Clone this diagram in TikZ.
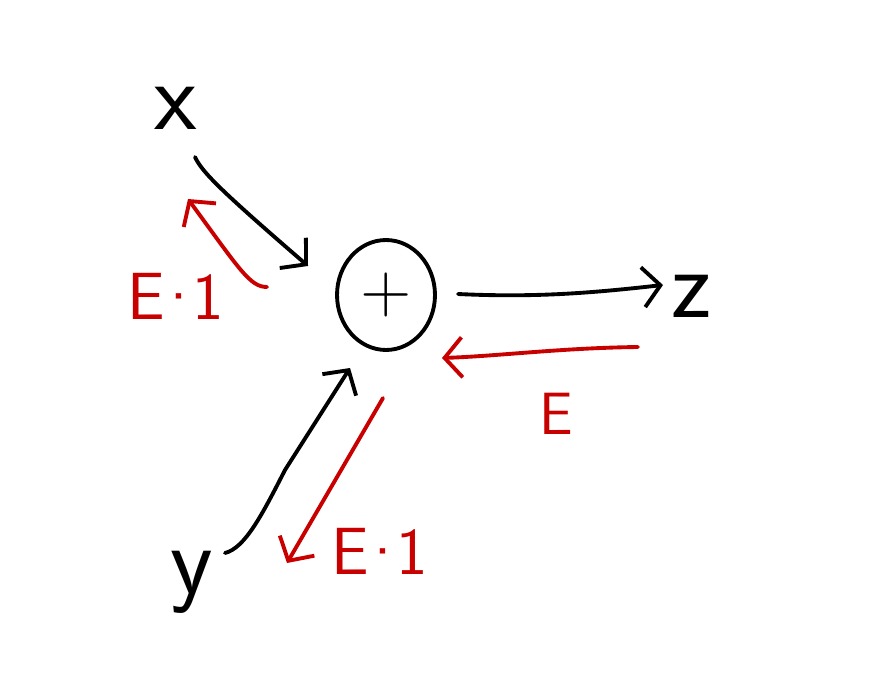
\documentclass[tikz,border=0pt]{standalone}
\usepackage{fontspec}
\usetikzlibrary{arrows.meta,shapes.geometric}
\definecolor{pen}{HTML}{C80000}
\newcommand{\edot}{E\kern-0.16em·\kern-0.16em1}
\tikzset{
  blk/.style={draw=black, line width=2.2pt, line cap=round, line join=round, -{Straight Barb[length=3.5mm,width=8mm,line width=2.2pt]}},
  redarr/.style={draw=pen, line width=2.2pt, line cap=round, line join=round, -{Straight Barb[length=3.5mm,width=8mm,line width=2.2pt]}},
  lbl/.style={font=\sffamily\fontsize{56}{56}\selectfont, inner sep=0pt},
  redlbl/.style={font=\sffamily\fontsize{38}{38}\selectfont, text=pen, inner sep=0pt},
}
\begin{document}
\begin{tikzpicture}[x=0.02cm,y=-0.02cm]
\useasboundingbox[fill=white] (0,0) rectangle (884,678);
% variable nodes
\node[lbl] (x) at (176,108) {x};
\node[lbl] (z) at (692,296) {z};
\node[lbl] (y) at (192,582) {y};
\node[draw, ellipse, line width=2.2pt, minimum width=1.96cm, minimum height=2.2cm,
      font=\sffamily\fontsize{40}{40}\selectfont, inner sep=0pt] (plus) at (386,295) {+};
% labels
\node[redlbl] (l1) at (176,296) {\edot};
\node[redlbl, font=\sffamily\fontsize{34}{34}\selectfont] (l2) at (556,414) {E};
\node[redlbl] (l3) at (380,551) {\edot};
% connector end points
\coordinate (xa) at (195,157);
\coordinate (xb) at (308,266);
\coordinate (za) at (458,294);
\coordinate (zb) at (663,285);
\coordinate (ya) at (225,553);
\coordinate (yb) at (350,368);
\coordinate (r1a) at (267,287);
\coordinate (r1b) at (188,199);
\coordinate (r2a) at (638,347);
\coordinate (r2b) at (442,358);
\coordinate (r3a) at (383,398);
\coordinate (r3b) at (287,563);
% black forward arrows
\draw[blk] (xa) .. controls (202,172) and (220,190) .. (xb);
\draw[blk] (za) .. controls (540,298) and (600,292) .. (zb);
\draw[blk] (ya) .. controls (245,548) and (262,515) .. (285,470) -- (yb);
% red backward arrows
\draw[redarr] (r1a) .. controls (250,287) and (240,270) .. (r1b);
\draw[redarr] (r2a) .. controls (560,348) and (500,356) .. (r2b);
\draw[redarr] (r3a) -- (r3b);
\end{tikzpicture}
\end{document}
